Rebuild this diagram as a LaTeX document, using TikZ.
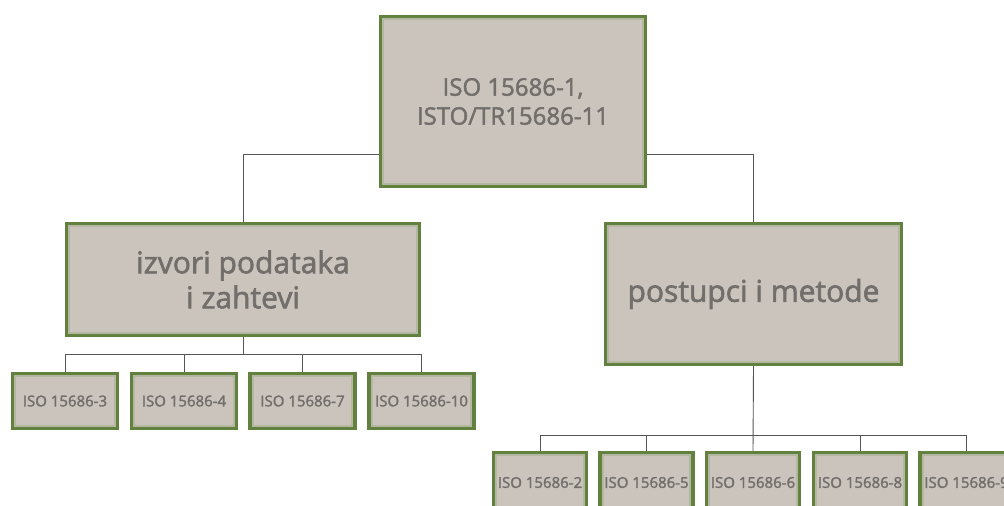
\documentclass[tikz,border=0pt]{standalone}
\usepackage{fontspec}
\setmainfont{Open Sans}
\newfontfamily\boxfont[FakeBold=2]{Open Sans}
\usetikzlibrary{calc}
\definecolor{boxfill}{HTML}{CBC4BD}
\definecolor{boxline}{HTML}{62803E}
\definecolor{boxglow}{HTML}{B4B8A0}
\definecolor{boxtext}{HTML}{716E6B}
\definecolor{wire}{HTML}{555555}
\tikzset{
  box/.style={draw=boxline, line width=3.2pt, fill=boxfill, text=boxtext, align=center, inner sep=0pt,
    path picture={\draw[boxglow, line width=2.4pt] ([shift={(2.4pt,2.4pt)}]path picture bounding box.south west) rectangle ([shift={(-2.4pt,-2.4pt)}]path picture bounding box.north east);}},
  bigbox/.style={box, font=\boxfont\fontsize{24}{29}\selectfont},
  midbox/.style={box, font=\boxfont\fontsize{30}{35}\selectfont},
  smallbox/.style={box, font=\boxfont\fontsize{15}{18}\selectfont},
  wire/.style={draw=wire, line width=0.9pt}
}
\begin{document}
\begin{tikzpicture}[x=1pt,y=-1pt]
\useasboundingbox (0,0) rectangle (1004,506);
\clip (0,0) rectangle (1004,506);
\fill[white] (0,0) rectangle (1004,506);
% top
\node[bigbox, minimum width=265pt, minimum height=170pt] (top) at (513,101.5) {ISO 15686-1,\\ISTO/TR15686-11};
% mid
\node[midbox, minimum width=353pt, minimum height=112pt] (lm) at (243,279.5) {izvori podataka\\i zahtevi};
\node[midbox, minimum width=296pt, minimum height=141pt] (rm) at (753.5,294) {postupci i metode};
% left small
\node[smallbox, minimum width=105pt, minimum height=55pt] (s3) at (65,401) {ISO 15686-3};
\node[smallbox, minimum width=105pt, minimum height=55pt] (s4) at (184,401) {ISO 15686-4};
\node[smallbox, minimum width=105pt, minimum height=55pt] (s7) at (302.5,401) {ISO 15686-7};
\node[smallbox, minimum width=105pt, minimum height=55pt] (s10) at (421.5,401) {ISO 15686-10};
% right small
\node[smallbox, minimum width=93pt, minimum height=60pt] (s2) at (540,482.5) {ISO 15686-2};
\node[smallbox, minimum width=93pt, minimum height=60pt] (s5) at (646.5,482.5) {ISO 15686-5};
\node[smallbox, minimum width=93pt, minimum height=60pt] (s6) at (753,482.5) {ISO 15686-6};
\node[smallbox, minimum width=93pt, minimum height=60pt] (s8) at (860,482.5) {ISO 15686-8};
\node[smallbox, minimum width=93pt, minimum height=60pt] (s9) at (966.5,482.5) {ISO 15686-9};
% connectors
\draw[wire] ([yshift=34pt]top.south west) -| (lm.north);
\draw[wire] ([yshift=34pt]top.south east) -| (rm.north);
\coordinate (lbus) at ($(lm.south)+(0,17)$);
\draw[wire] (lm.south) -- (lbus);
\draw[wire] (s3.north) |- (lbus) -| (s10.north);
\draw[wire] (s4.north) -- (s4.north |- lbus);
\draw[wire] (s7.north) -- (s7.north |- lbus);
\coordinate (rbus) at ($(rm.south)+(0,69)$);
\draw[wire] (rm.south) -- (s6.north);
\draw[wire] (s2.north) |- (rbus) -| (s9.north);
\draw[wire] (s5.north) -- (s5.north |- rbus);
\draw[wire] (s8.north) -- (s8.north |- rbus);
\end{tikzpicture}
\end{document}
